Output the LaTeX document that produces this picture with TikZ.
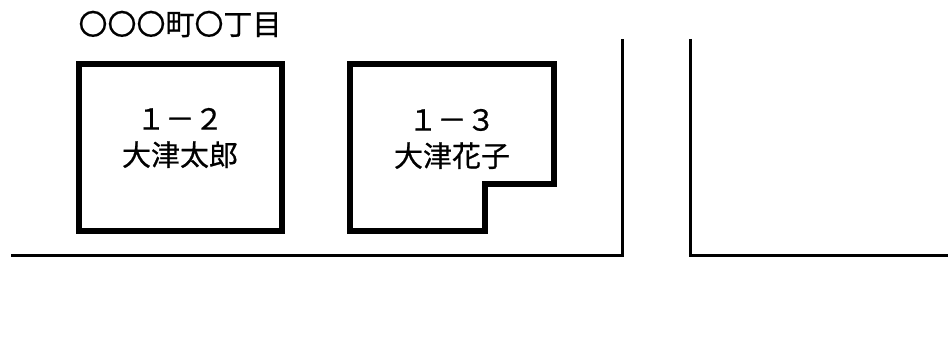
\documentclass[tikz,border=0pt]{standalone}
\usepackage{fontspec}
\newfontfamily\jp[FakeBold=0.6]{Noto Sans CJK JP}
\begin{document}
\begin{tikzpicture}[x=1pt,y=-1pt,
  house/.style={draw=black,line width=6pt,line join=miter},
  road/.style={draw=black,line width=3pt,line join=miter},
  label/.style={font=\jp\fontsize{29}{36}\selectfont,align=center,inner sep=0pt}]
\useasboundingbox[fill=white] (0,0) rectangle (949,350);
% title
\node[label] (title) at (180,24) {〇〇〇町〇丁目};
% house 1
\draw[house] (79,64) rectangle (282,231);
\node[label] (h1) at (180,138) {１－２\\大津太郎};
% house 2
\draw[house] (350,64) -- (554,64) -- (554,184) -- (485,184) -- (485,231) -- (350,231) -- cycle;
\node[label] (h2) at (452,139) {１－３\\大津花子};
% roads
\coordinate (r1a) at (11,255);
\coordinate (r1b) at (622,255);
\coordinate (r1c) at (622,39);
\coordinate (r2a) at (690,39);
\coordinate (r2b) at (690,255);
\coordinate (r2c) at (948,255);
\draw[road] (r1a) -- (r1b) -- (r1c);
\draw[road] (r2a) -- (r2b) -- (r2c);
\end{tikzpicture}
\end{document}
